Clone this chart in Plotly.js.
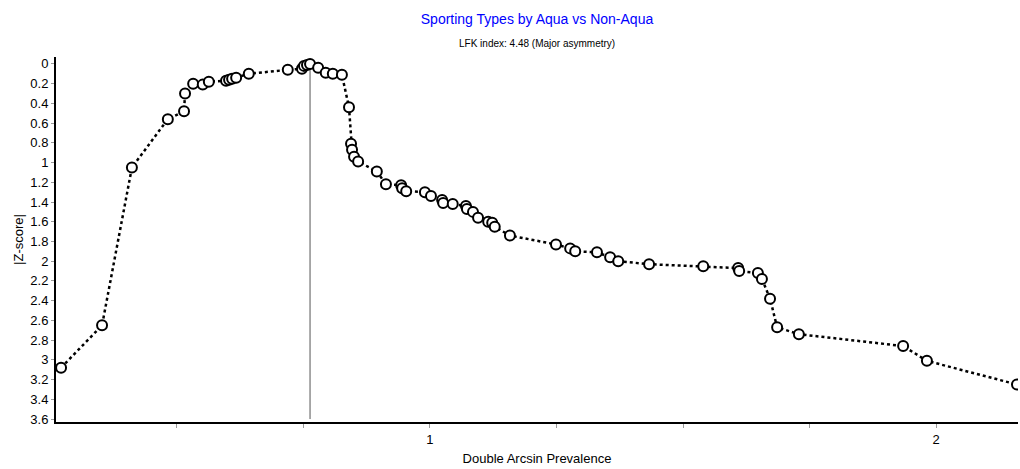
<!DOCTYPE html>
<html>
<head>
<meta charset="utf-8">
<script src="https://cdn.plot.ly/plotly-3.0.1.min.js"></script>
<style>
html,body{margin:0;padding:0;background:#fff;}
#chart{width:1020px;height:469px;}
</style>
</head>
<body>
<div id="chart"></div>
<script>
// Double arcsin prevalence (x) and |Z-score| (y)
const prevalence = [
  0.271, 0.352, 0.411, 0.482, 0.514, 0.516, 0.532, 0.551, 0.563, 0.597,
  0.603, 0.609, 0.617, 0.642, 0.719, 0.747, 0.751, 0.757, 0.763, 0.779,
  0.794, 0.808, 0.826, 0.840, 0.844, 0.846, 0.850, 0.858, 0.895, 0.913,
  0.943, 0.945, 0.953, 0.990, 1.002, 1.024, 1.026, 1.045, 1.071, 1.073,
  1.085, 1.095, 1.115, 1.123, 1.128, 1.158, 1.249, 1.277, 1.287, 1.330,
  1.356, 1.372, 1.433, 1.540, 1.609, 1.611, 1.648, 1.656, 1.672, 1.686,
  1.729, 1.935, 1.982, 2.160
];
const zscore = [
  3.08, 2.65, 1.05, 0.56, 0.48, 0.30, 0.20, 0.21, 0.18, 0.17,
  0.16, 0.15, 0.14, 0.10, 0.06, 0.05, 0.02, 0.01, 0.00, 0.04,
  0.09, 0.10, 0.11, 0.44, 0.81, 0.87, 0.94, 0.99, 1.09, 1.22,
  1.23, 1.26, 1.29, 1.30, 1.34, 1.38, 1.41, 1.42, 1.44, 1.47,
  1.50, 1.56, 1.60, 1.61, 1.65, 1.74, 1.83, 1.87, 1.90, 1.91,
  1.96, 2.00, 2.03, 2.05, 2.07, 2.10, 2.12, 2.18, 2.38, 2.67,
  2.74, 2.86, 3.01, 3.25
];
const peakX = 0.763;               // vertical reference line position
const xTickVals = [0.5, 0.75, 1, 1.25, 1.5, 1.75, 2];
const xTickText = ['', '', '1', '', '', '', '2'];
const yTickVals = [0,0.2,0.4,0.6,0.8,1,1.2,1.4,1.6,1.8,2,2.2,2.4,2.6,2.8,3,3.2,3.4,3.6];
const yTickText = ['0','0.2','0.4','0.6','0.8','1','1.2','1.4','1.6','1.8','2','2.2','2.4','2.6','2.8','3','3.2','3.4','3.6'];

const FONT = 'Liberation Sans, Arial, sans-serif';

const trace = {
  x: prevalence,
  y: zscore,
  type: 'scatter',
  mode: 'lines+markers',
  line: {color: '#000', width: 2.5, dash: 'dot'},
  marker: {symbol: 'circle', size: 10, color: '#fff', line: {color: '#000', width: 2}},
  cliponaxis: true,
  hoverinfo: 'x+y'
};

const layout = {
  width: 1020, height: 469,
  margin: {l: 56, r: 2, t: 57, b: 47},
  paper_bgcolor: '#fff', plot_bgcolor: '#fff',
  showlegend: false,
  font: {family: FONT, color: '#000', size: 13},
  title: {
    text: 'Sporting Types by Aqua vs Non-Aqua',
    font: {family: FONT, size: 14, color: '#0000ff'},
    x: 0.5, xref: 'paper', xanchor: 'center',
    y: 0.96, yref: 'container', yanchor: 'middle'
  },
  annotations: [{
    text: 'LFK index: 4.48 (Major asymmetry)',
    xref: 'paper', yref: 'paper', x: 0.5, y: 1.036,
    xanchor: 'center', yanchor: 'middle', showarrow: false,
    font: {family: FONT, size: 10, color: '#000'}
  }],
  xaxis: {
    range: [0.261, 2.162],
    tickmode: 'array', tickvals: xTickVals, ticktext: xTickText,
    ticks: 'outside', ticklen: 4, tickwidth: 1, tickcolor: '#999',
    showgrid: false, zeroline: false,
    showline: true, linecolor: '#000', linewidth: 2,
    tickfont: {family: FONT, size: 13, color: '#000'},
    title: {text: 'Double Arcsin Prevalence', font: {family: FONT, size: 13, color: '#000'}, standoff: 8}
  },
  yaxis: {
    range: [3.63, -0.07],
    tickmode: 'array', tickvals: yTickVals, ticktext: yTickText,
    ticks: 'outside', ticklen: 3, tickwidth: 1, tickcolor: '#999',
    showgrid: false, zeroline: false,
    showline: true, linecolor: '#000', linewidth: 2,
    tickfont: {family: FONT, size: 13, color: '#000'},
    title: {text: '|Z-score|', font: {family: FONT, size: 13, color: '#000'}, standoff: 4}
  },
  shapes: [{
    type: 'line', xref: 'x', yref: 'y',
    x0: peakX, x1: peakX, y0: 0, y1: 3.6,
    line: {color: '#555', width: 1}, layer: 'below'
  }]
};

Plotly.newPlot('chart', [trace], layout, {displayModeBar: false, staticPlot: true});
</script>
</body>
</html>
